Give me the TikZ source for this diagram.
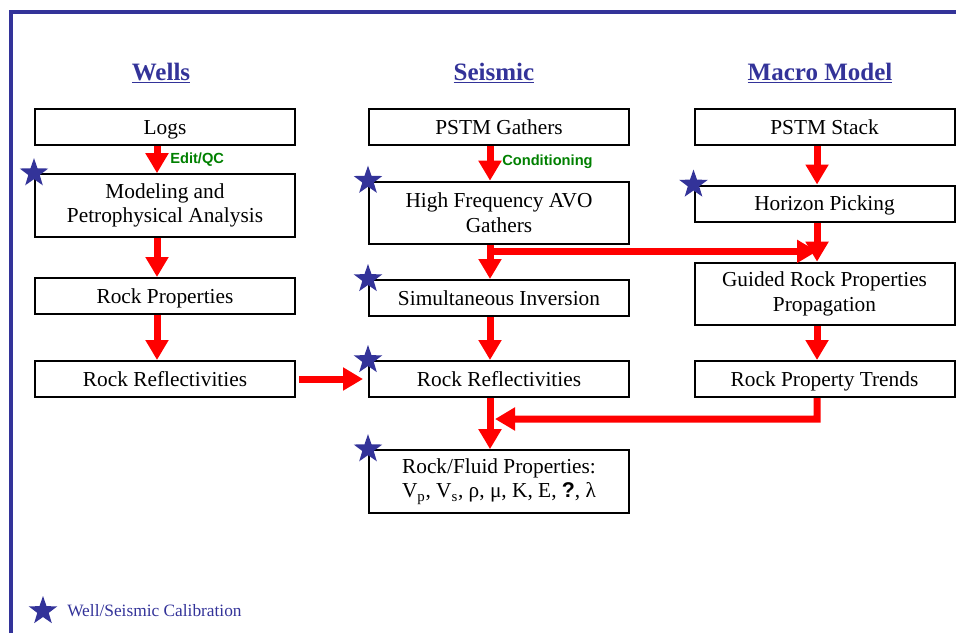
\documentclass[tikz,border=0pt]{standalone}
\usepackage{fontspec}
\setmainfont{Liberation Serif}
\setsansfont{Liberation Sans}
\usetikzlibrary{arrows.meta,shapes.geometric,calc}

\definecolor{frameblue}{HTML}{333399}
\definecolor{flowred}{HTML}{FF0000}
\definecolor{labelgreen}{HTML}{008000}

% underlined column heading with a heavier rule than \underline gives
\newcommand\ulhead[1]{\setbox0\hbox{#1}\rlap{\rule[-2.6pt]{\wd0}{1.4pt}}\box0}

\tikzset{
  tallbox/.style={draw=black, line width=1.5pt, fill=white,
    minimum width=195pt, minimum height=47pt, inner sep=0pt, align=center,
    font=\fontsize{16}{18.5}\selectfont},
  % one-line boxes: centre the capitals, not the descenders
  stepbox/.style={tallbox, minimum height=27pt, text height=10.6pt, text depth=0pt},
  flow/.style={draw=flowred, line width=5.25pt,
    -{Triangle[length=15pt,width=16.5pt]}},
  calstar/.style={star, star points=5, star point ratio=2.5, fill=frameblue,
    draw=none, minimum size=22.5pt, inner sep=0pt},
  colhead/.style={text=frameblue, anchor=base,
    font=\fontsize{18.75}{22}\selectfont\bfseries},
  note/.style={text=labelgreen, anchor=west, inner sep=0pt,
    font=\sffamily\bfseries\fontsize{11}{13}\selectfont},
}

\begin{document}
\begin{tikzpicture}[x=0.75pt,y=-0.75pt]
\useasboundingbox (0,0) rectangle (956,633);

% frame along the top and left edges
\draw[frameblue, line width=3pt] (11,633) -- (11,11.5) -- (956,11.5);

% column headings
\node[colhead] (hwells)   at (161,80) {\ulhead{Wells}};
\node[colhead] (hseismic) at (494,80) {\ulhead{Seismic}};
\node[colhead] (hmacro)   at (820,80) {\ulhead{Macro Model}};

% wells column
\node[stepbox] (logs)  at (165,127)   {Logs};
\node[tallbox] (model) at (165,205.5) {Modeling and\\Petrophysical Analysis};
\node[stepbox] (wprop) at (165,296)   {Rock Properties};
\node[stepbox] (wref)  at (165,379)   {Rock Reflectivities};

% seismic column
\node[stepbox] (pgath) at (499,127)   {PSTM Gathers};
\node[tallbox] (hf)    at (499,213)   {High Frequency AVO\\Gathers};
\node[stepbox] (simul) at (499,298)   {Simultaneous Inversion};
\node[stepbox] (sref)  at (499,379)   {Rock Reflectivities};
\node[tallbox] (fluid) at (499,481.5) {Rock/Fluid Properties:\\
  V\textsubscript{p}, V\textsubscript{s}, ρ, μ, K, E, {\sffamily\bfseries ?}, λ};

% macro model column
\node[stepbox] (stack)   at (824.5,127)   {PSTM Stack};
\node[stepbox] (horizon) at (824.5,203.5) {Horizon Picking};
\node[tallbox] (guided)  at (824.5,294)   {Guided Rock Properties\\Propagation};
\node[stepbox] (trends)  at (824.5,379)   {Rock Property Trends};

% flow arrows, wells
\draw[flow] ([xshift=-6pt]logs.south)  -- ([xshift=-6pt]model.north);
\draw[flow] ([xshift=-6pt]model.south) -- ([xshift=-6pt]wprop.north);
\draw[flow] ([xshift=-6pt]wprop.south) -- ([xshift=-6pt]wref.north);
\draw[flow] ([xshift=2.25pt]wref.east) -- ([xshift=-3.75pt]sref.west);
\node[note] (editqc) at (170,160) {Edit/QC};

% flow arrows, seismic
\draw[flow] ([xshift=-6.75pt]pgath.south) -- ([xshift=-6.75pt]hf.north);
\draw[flow] ([xshift=-6.75pt]hf.south)    -- ([xshift=-6.75pt]simul.north);
\draw[flow] ([xshift=-6.75pt]simul.south) -- ([xshift=-6.75pt]sref.north);
\draw[flow] ([xshift=-6.75pt]sref.south)  -- ([xshift=-6.75pt]fluid.north);
\node[note] (cond) at (502,162) {Conditioning};

% flow arrows, macro model
\draw[flow] ([xshift=-5.6pt]stack.south)   -- ([xshift=-5.6pt]horizon.north);
\draw[flow] ([xshift=-5.6pt]horizon.south) -- ([xshift=-5.6pt]guided.north);
\draw[flow] ([xshift=-5.6pt]guided.south)  -- ([xshift=-5.6pt]trends.north);

% branch from the AVO gathers over to the propagation step
\coordinate (hfj)  at ($(hf.south)+(-9,6)$);
\coordinate (mcol) at ($(horizon.south)+(-7.5,0)$);
\draw[flow] (hfj) -- (hfj -| mcol);

% trends fed back into the rock/fluid step
\coordinate (tj)   at ($(trends.south)+(-7.5,21)$);
\coordinate (tipx) at ($(sref.south)+(-4,0)$);
\draw[flow, line join=miter] ([xshift=-5.6pt]trends.south) -- (tj) -- (tj -| tipx);

% well/seismic calibration marks
\node[calstar] (st1) at (model.north west) {};
\node[calstar] (st2) at (hf.north west) {};
\node[calstar] (st3) at (simul.north west) {};
\node[calstar] (st4) at (sref.north west) {};
\node[calstar] (st5) at (fluid.north west) {};
\node[calstar] (st6) at (horizon.north west) {};

% legend
\node[calstar] (legstar) at (43,611) {};
\node[anchor=west, inner sep=0pt, text=frameblue,
  font=\fontsize{13}{15}\selectfont] (legtext) at (67,611) {Well/Seismic Calibration};
\end{tikzpicture}
\end{document}
